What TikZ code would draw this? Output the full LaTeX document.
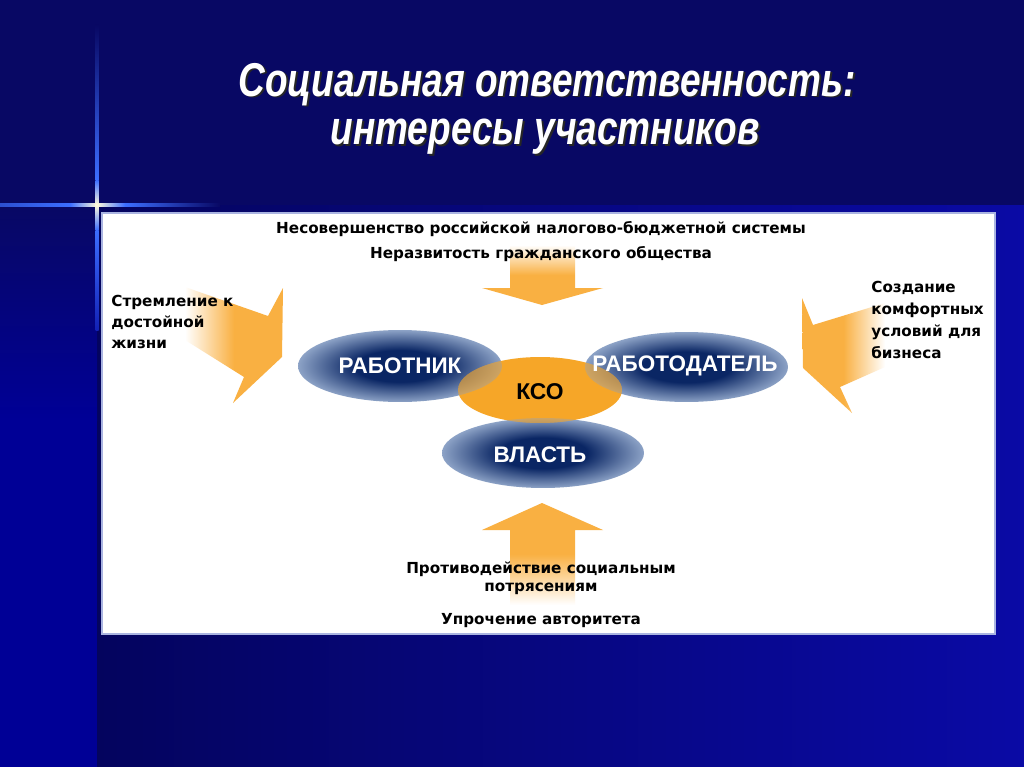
\documentclass[tikz,border=0pt]{standalone}
\usepackage{fontspec}
\setmainfont{DejaVu Sans}
\newfontfamily\titlefont[FakeStretch=0.78]{Liberation Sans}
\newfontfamily\ellfont{Liberation Sans}
\definecolor{bgtop}{RGB}{8,8,100}
\definecolor{bgbotL}{RGB}{4,4,94}
\definecolor{bgbotR}{RGB}{10,10,165}
\definecolor{bgleft}{RGB}{0,0,150}
\definecolor{glow}{RGB}{60,110,255}
\definecolor{glowc}{RGB}{255,250,220}
\definecolor{arrowor}{RGB}{249,176,66}
\definecolor{ksoor}{RGB}{246,166,40}
\definecolor{ellin}{RGB}{10,38,100}
\definecolor{ellout}{RGB}{140,162,198}
\definecolor{panelrim}{RGB}{170,180,225}
\pgfdeclareradialshading{ellshade}{\pgfpoint{0bp}{0bp}}{color(0bp)=(ellin); color(11bp)=(ellin); color(25bp)=(ellout); color(50bp)=(ellout)}
\tikzset{
  titletxt/.style={text=white, inner sep=0pt, anchor=base, text height=0.7em, text depth=0.08em, font=\titlefont\bfseries\itshape\fontsize{27}{32}\selectfont},
  titleshadow/.style={titletxt, text=black!85},
  bodytxt/.style={inner sep=0pt, text=black, font=\bfseries\fontsize{8.65}{11}\selectfont},
  sidetxt/.style={inner sep=0pt, anchor=base west, text=black, font=\bfseries\fontsize{8.65}{11}\selectfont},
  elltxt/.style={inner sep=0pt, text=white, font=\ellfont\bfseries\fontsize{12.8}{14}\selectfont},
  ksotxt/.style={inner sep=0pt, text=black, font=\ellfont\bfseries\fontsize{13}{15}\selectfont},
  ellblue/.style={shading=ellshade},
}
\begin{document}
\begin{tikzpicture}[x=0.02cm,y=-0.02cm]
\useasboundingbox (0,0) rectangle (1024,767);
% background
\fill[bgtop] (0,0) rectangle (1024,767);
\shade[left color=bgbotL, right color=bgbotR] (97,205) rectangle (1024,767);
\shade[top color=bgtop, bottom color=bgleft] (0,205) rectangle (97,420);
\fill[bgleft] (0,419) rectangle (97,767);
% glow cross
\shade[left color=glow!70!bgtop, right color=glow] (0,203.5) rectangle (70,206.5);
\shade[left color=glow, right color=glowc] (70,203.5) rectangle (97,206.5);
\shade[left color=glowc, right color=glow] (97,203.5) rectangle (125,206.5);
\shade[left color=glow, right color=bgtop] (125,203.5) rectangle (220,206.5);
\shade[top color=bgtop, bottom color=glow] (95.5,25) rectangle (98.5,180);
\shade[top color=glow, bottom color=glowc] (95.5,180) rectangle (98.5,205);
\shade[top color=glowc, bottom color=glow] (95.5,205) rectangle (98.5,230);
\shade[top color=glow, bottom color=glow!30!bgleft] (95.5,230) rectangle (98.5,330);
\fill[glowc] (97,205) circle [radius=0.04cm];
% title
\node[titleshadow] (title1s) at (549,98) {Социальная ответственность:};
\node[titleshadow] (title2s) at (547,146) {интересы участников};
\node[titletxt] (title1) at (547,96) {Социальная ответственность:};
\node[titletxt] (title2) at (545,144) {интересы участников};
% panel
\fill[white, draw=panelrim, line width=0.6pt] (102,213) rectangle (995,634);
% arrows
\shade[top color=white, bottom color=arrowor, middle color=arrowor]
  (510,245) -- (575,245) -- (575,288) -- (603,288) -- (542,305) -- (482,288) -- (510,288) -- cycle;
\shade[top color=arrowor, bottom color=white, middle color=arrowor]
  (542,503) -- (603,530) -- (575,530) -- (575,605) -- (510,605) -- (510,530) -- (482,530) -- cycle;
\shade[left color=white, right color=arrowor, middle color=arrowor]
  (185,287) -- (268,316) -- (283,288) -- (282,357) -- (233,403) -- (244,377) -- (185,340) -- cycle;
\shade[left color=arrowor, right color=white, middle color=arrowor]
  (885,303) -- (813,325) -- (802,298) -- (803,368) -- (852,413) -- (840,387) -- (885,367) -- cycle;
% ellipses
\shade[ellblue] (400,366) ellipse [x radius=2.04cm, y radius=0.72cm];
\shade[ellblue] (686.5,367) ellipse [x radius=2.03cm, y radius=0.70cm];
\shade[ellblue] (543,453) ellipse [x radius=2.02cm, y radius=0.70cm];
\fill[ksoor] (540,390) ellipse [x radius=1.64cm, y radius=0.66cm];
\begin{scope}
\clip (540,390) ellipse [x radius=1.64cm, y radius=0.66cm];
\shade[ellblue, opacity=0.38] (400,366) ellipse [x radius=2.04cm, y radius=0.72cm];
\shade[ellblue, opacity=0.38] (686.5,367) ellipse [x radius=2.03cm, y radius=0.70cm];
\shade[ellblue, opacity=0.38] (543,453) ellipse [x radius=2.02cm, y radius=0.70cm];
\end{scope}
\node[elltxt] (rab) at (400,366) {РАБОТНИК};
\node[elltxt] (rabd) at (685,366) {РАБОТОДАТЕЛЬ};
\node[elltxt] (vlast) at (540,455) {ВЛАСТЬ};
\node[ksotxt] (kso) at (540,392) {КСО};
% texts
\node[bodytxt, anchor=base] (top1) at (541,233) {Несовершенство российской налогово-бюджетной системы};
\node[bodytxt, anchor=base] (top2) at (541,258) {Неразвитость гражданского общества};
\node[sidetxt] (l1) at (111,306) {Стремление к};
\node[sidetxt] (l2) at (111,327) {достойной};
\node[sidetxt] (l3) at (111,348) {жизни};
\node[sidetxt] (r1) at (871,292) {Создание};
\node[sidetxt] (r2) at (871,314) {комфортных};
\node[sidetxt] (r3) at (871,336) {условий для};
\node[sidetxt] (r4) at (871,358) {бизнеса};
\node[bodytxt, anchor=base] (b1) at (541,573) {Противодействие социальным};
\node[bodytxt, anchor=base] (b2) at (541,591) {потрясениям};
\node[bodytxt, anchor=base] (b3) at (541,624) {Упрочение авторитета};
\end{tikzpicture}
\end{document}
